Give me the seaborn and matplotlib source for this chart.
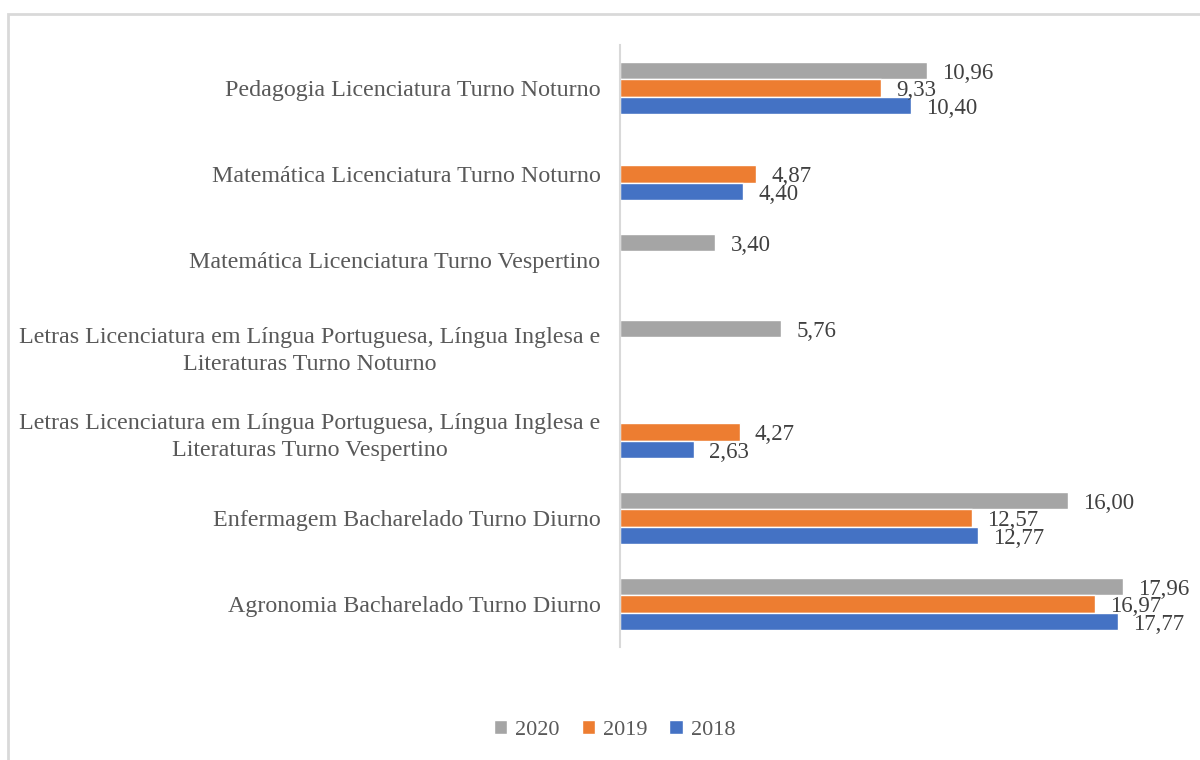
import numpy as np
import pandas as pd
import matplotlib
matplotlib.use('Agg')
import matplotlib.pyplot as plt
import seaborn as sns
from matplotlib.patches import Rectangle

# dados do gráfico
cursos = [
    'Pedagogia Licenciatura Turno Noturno',
    'Matemática Licenciatura Turno Noturno',
    'Matemática Licenciatura Turno Vespertino',
    'Letras Licenciatura em Língua Portuguesa, Língua Inglesa e\nLiteraturas Turno Noturno',
    'Letras Licenciatura em Língua Portuguesa, Língua Inglesa e\nLiteraturas Turno Vespertino',
    'Enfermagem Bacharelado Turno Diurno',
    'Agronomia Bacharelado Turno Diurno',
]
anos = ['2020', '2019', '2018']
v2020 = [10.96, np.nan, 3.40, 5.76, np.nan, 16.00, 17.96]
v2019 = [9.33, 4.87, np.nan, np.nan, 4.27, 12.57, 16.97]
v2018 = [10.40, 4.40, np.nan, np.nan, 2.63, 12.77, 17.77]
cores = ['#a5a5a5', '#ed7d31', '#4472c4']

df = pd.DataFrame({'curso': cursos * 3,
                   'ano': np.repeat(anos, len(cursos)),
                   'valor': v2020 + v2019 + v2018})

sns.set_style('white')
plt.rcParams['font.family'] = ['Liberation Serif', 'DejaVu Serif']

fig = plt.figure(figsize=(12, 7.6), dpi=100)
ax = fig.add_axes([0.5167, 0.149, 0.4666, 0.792])

sns.barplot(data=df, y='curso', x='valor', hue='ano', hue_order=anos,
            palette=cores, orient='h', width=0.61, ax=ax, saturation=1)

ax.set_xlim(0, 20)
ax.set_xlabel('')
ax.set_ylabel('')
ax.set_xticks([])
ax.tick_params(axis='y', length=0, pad=14, labelsize=17.3, labelcolor='#595959')
for lab in ax.get_yticklabels():
    lab.set_multialignment('center')
    lab.set_linespacing(1.35)
for s in ['top', 'right', 'bottom']:
    ax.spines[s].set_visible(False)
ax.spines['left'].set_color('#d9d9d9')
ax.spines['left'].set_linewidth(1.5)

# rótulos de valores
for cont in ax.containers:
    labs = ['' if np.isnan(b.get_width()) else f'{b.get_width():.2f}'.replace('.', ',')
            for b in cont]
    anns = ax.bar_label(cont, labels=labs, padding=11, fontsize=16.5, color='#404040')
    for a in anns:
        a.xyann = (11, -2)

leg = ax.legend(loc='lower center', bbox_to_anchor=(0.512, 0.0),
                bbox_transform=fig.transFigure, ncol=3, frameon=False,
                fontsize=16, handlelength=0.6, handleheight=0.6,
                handletextpad=0.35, columnspacing=1.0)
for t in leg.get_texts():
    t.set_color('#595959')

# moldura do gráfico
fig.patches.append(Rectangle((8 / 1200, -0.1), 1.2, 1.1 - 14 / 760,
                             transform=fig.transFigure, fill=False,
                             edgecolor='#d9d9d9', linewidth=2))

fig.savefig('out.png', dpi=100)
